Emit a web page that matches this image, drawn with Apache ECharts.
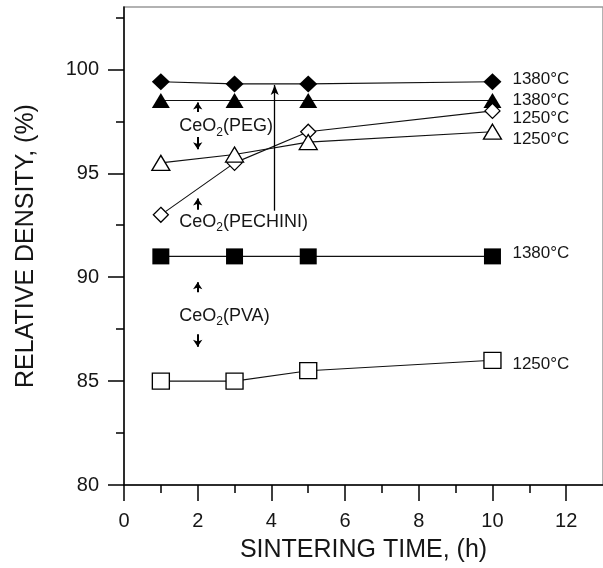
<!DOCTYPE html>
<html>
<head>
<meta charset="utf-8">
<script src="https://cdn.jsdelivr.net/npm/echarts@6/dist/echarts.min.js"></script>
<style>
  html, body { margin: 0; padding: 0; background: #fff; }
  #chart { width: 603px; height: 568px; }
</style>
</head>
<body>
<div id="chart"></div>
<script>
// Sintering time (h) and relative density (%) of CeO2 powders
const times = [1, 3, 5, 10];
const pechini1380 = [99.4, 99.3, 99.3, 99.4];
const peg1380 = [98.5, 98.5, 98.5, 98.5];
const pechini1250 = [93.0, 95.5, 97.0, 98.0];
const peg1250 = [95.5, 95.9, 96.5, 97.0];
const pva1380 = [91.0, 91.0, 91.0, 91.0];
const pva1250 = [85.0, 85.0, 85.5, 86.0];

const xMajorTicks = [0, 2, 4, 6, 8, 10, 12];
const xMinorTicks = [1, 3, 5, 7, 9, 11];
const yMajorTicks = [80, 85, 90, 95, 100];
const yMinorTicks = [82.5, 87.5, 92.5, 97.5, 102.5];

const FONT = 'Liberation Sans, Arial, sans-serif';
const INK = '#111';
const TEXT = '#161616';

// Powder labels with subscript, placed at [time, density]
const notes = [
  { text: 'PEG', at: [1.5, 97.25] },
  { text: 'PECHINI', at: [1.5, 92.65] },
  { text: 'PVA', at: [1.5, 88.15] }
];
// Small pointer arrows: [time, from, to]
const pointers = [
  [2, 97.95, 98.4],
  [2, 96.75, 96.15],
  [2, 93.25, 93.78],
  [2, 89.28, 89.76],
  [2, 87.25, 86.65]
];
// Long leader from the PECHINI label up to the 1380°C curve
const leader = [4.09, 93.2, 99.25];

function pairs(ys) { return times.map((t, i) => [t, ys[i]]); }

function curve(name, ys, symbol, size, filled, tag, dy) {
  return {
    name: name,
    type: 'line',
    data: pairs(ys),
    symbol: symbol,
    symbolSize: size,
    showAllSymbol: true,
    lineStyle: { color: INK, width: 1.1 },
    itemStyle: filled
      ? { color: '#000', borderColor: '#000', borderWidth: 0 }
      : { color: '#fff', borderColor: '#000', borderWidth: 1.3 },
    endLabel: {
      show: true,
      formatter: tag,
      distance: 20,
      offset: [0, dy],
      fontFamily: FONT,
      fontSize: 17,
      color: TEXT
    },
    emphasis: { disabled: true },
    silent: true,
    z: filled ? 3 : 4
  };
}

const chart = echarts.init(document.getElementById('chart'), null, { renderer: 'canvas' });

chart.setOption({
  backgroundColor: '#fff',
  animation: false,
  grid: {
    left: 124, top: 7, width: 482.3, height: 479.7,
    show: true, borderColor: '#999', borderWidth: 1.5, backgroundColor: 'transparent'
  },
  xAxis: [{
    type: 'value', min: 0, max: 13,
    axisLine: { lineStyle: { color: '#000', width: 1.5 } },
    axisTick: { show: true, inside: false, length: 16, customValues: xMajorTicks, lineStyle: { color: '#000', width: 1.5 } },
    axisLabel: { customValues: xMajorTicks, margin: 26, fontFamily: FONT, fontSize: 20, color: TEXT },
    splitLine: { show: false },
    name: 'SINTERING TIME, (h)',
    nameLocation: 'middle',
    nameGap: 53,
    nameTextStyle: { fontFamily: FONT, fontSize: 25, color: TEXT }
  }, {
    type: 'value', min: 0, max: 13, position: 'bottom',
    axisLine: { show: false },
    axisTick: { show: true, inside: false, length: 8, customValues: xMinorTicks, lineStyle: { color: '#000', width: 1.5 } },
    axisLabel: { show: false },
    splitLine: { show: false }
  }],
  yAxis: [{
    type: 'value', min: 80, max: 103,
    axisLine: { show: true, lineStyle: { color: '#000', width: 1.5 } },
    axisTick: { show: true, inside: false, length: 16, customValues: yMajorTicks, lineStyle: { color: '#000', width: 1.5 } },
    axisLabel: { customValues: yMajorTicks, margin: 25, fontFamily: FONT, fontSize: 20, color: TEXT },
    splitLine: { show: false },
    name: 'RELATIVE DENSITY, (%)',
    nameLocation: 'middle',
    nameGap: 85,
    nameTextStyle: { fontFamily: FONT, fontSize: 25, color: TEXT }
  }, {
    type: 'value', min: 80, max: 103, position: 'left',
    axisLine: { show: false },
    axisTick: { show: true, inside: false, length: 8, customValues: yMinorTicks, lineStyle: { color: '#000', width: 1.5 } },
    axisLabel: { show: false },
    splitLine: { show: false }
  }],
  series: [
    curve('PECHINI 1380', pechini1380, 'diamond', [18, 17], true, '1380°C', -3),
    curve('PEG 1380', peg1380, 'triangle', [18, 15], true, '1380°C', 0),
    curve('PECHINI 1250', pechini1250, 'diamond', [15, 15], false, '1250°C', 7),
    curve('PEG 1250', peg1250, 'triangle', [18, 15], false, '1250°C', 8),
    curve('PVA 1380', pva1380, 'rect', [17, 16], true, '1380°C', -3),
    curve('PVA 1250', pva1250, 'rect', [17, 16], false, '1250°C', 4),
    {
      name: 'notes',
      type: 'scatter',
      symbolSize: 0,
      silent: true,
      itemStyle: { color: '#000', opacity: 1 },
      emphasis: { disabled: true },
      data: notes.map(n => ({
        value: n.at,
        label: {
          show: true,
          position: 'right',
          distance: 0,
          color: TEXT,
          opacity: 1,
          formatter: '{a|CeO}{s|2}{a|(' + n.text + ')}',
          rich: {
            a: { fontFamily: FONT, fontSize: 18, color: TEXT },
            s: { fontFamily: FONT, fontSize: 12, color: TEXT, padding: [12, 0, 0, 0] }
          }
        }
      })),
      markLine: {
        silent: true,
        animation: false,
        label: { show: false },
        emphasis: { disabled: true },
        symbol: ['none', 'arrow'],
        symbolSize: [7, 7],
        lineStyle: { color: '#000', width: 2, type: 'solid', opacity: 1 },
        data: pointers.map(p => [{ coord: [p[0], p[1]] }, { coord: [p[0], p[2]] }]).concat([
          [
            { coord: [leader[0], leader[1]], lineStyle: { width: 1.3, color: '#000', type: 'solid' } },
            { coord: [leader[0], leader[2]], symbolSize: [6, 10] }
          ]
        ])
      }
    }
  ]
});
</script>
</body>
</html>
